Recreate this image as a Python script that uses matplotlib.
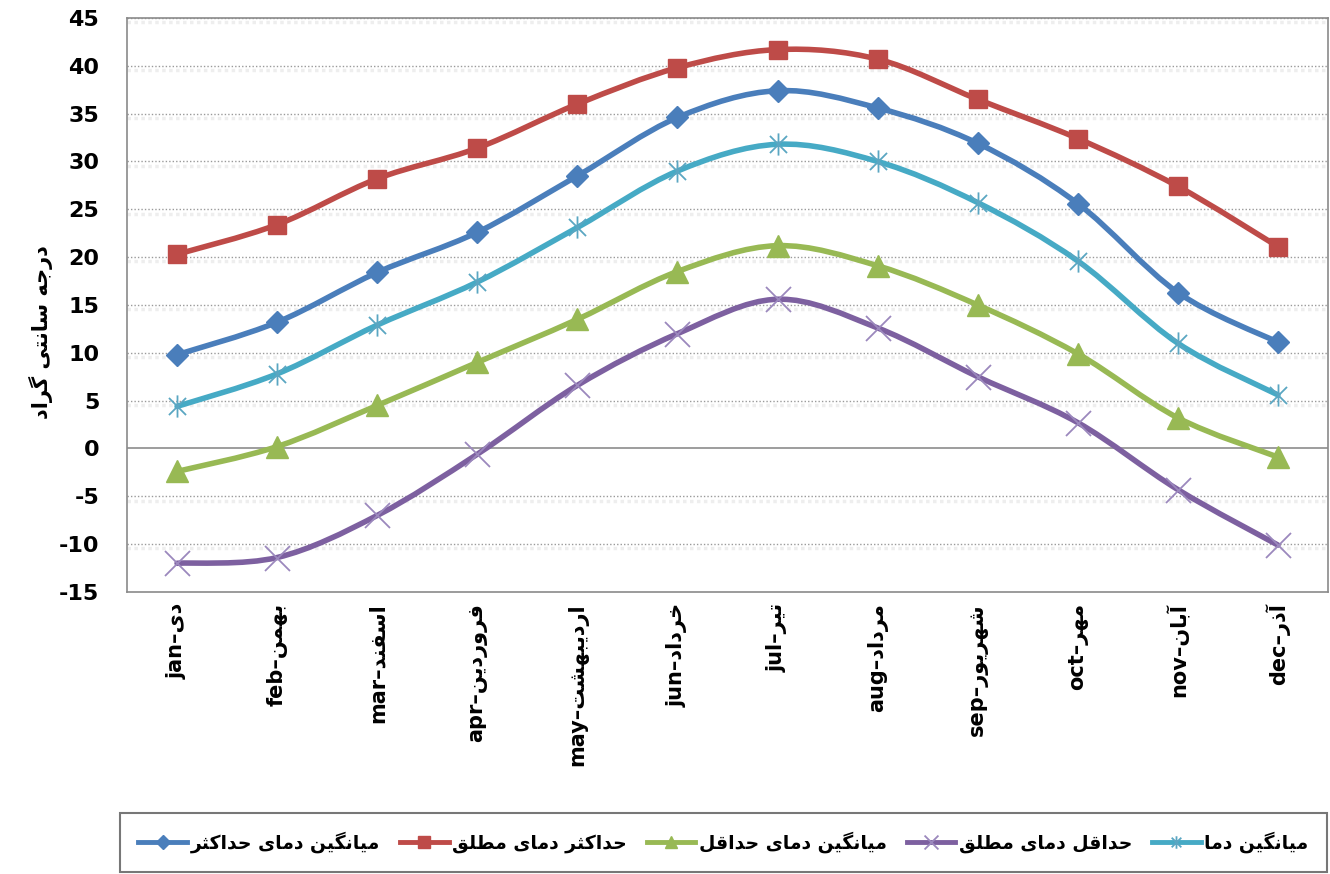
import numpy as np
import matplotlib
matplotlib.use("Agg")
import matplotlib.pyplot as plt
from matplotlib.path import Path
from matplotlib.patches import PathPatch
from matplotlib.lines import Line2D

# Data
months_en = ["jan", "feb", "mar", "apr", "may", "jun",
             "jul", "aug", "sep", "oct", "nov", "dec"]
months_fa = ["دی", "بهمن", "اسفند", "فروردین", "اردیبهشت", "خرداد",
             "تیر", "مرداد", "شهریور", "مهر", "آبان", "آذر"]
mean_max = [9.8, 13.2, 18.4, 22.6, 28.5, 34.6, 37.4, 35.6, 31.9, 25.6, 16.3, 11.1]
abs_max = [20.3, 23.4, 28.2, 31.4, 36.0, 39.8, 41.7, 40.7, 36.5, 32.4, 27.4, 21.1]
mean_min = [-2.4, 0.2, 4.5, 9.0, 13.5, 18.5, 21.2, 19.1, 15.0, 9.9, 3.2, -0.9]
abs_min = [-12.0, -11.4, -7.0, -0.6, 6.6, 12.0, 15.6, 12.6, 7.5, 2.7, -4.3, -10.1]
mean_t = [4.4, 7.8, 12.9, 17.4, 23.1, 29.0, 31.8, 30.0, 25.7, 19.6, 11.0, 5.6]

labels = ["میانگین دمای حداکثر", "حداکثر دمای مطلق", "میانگین دمای حداقل",
          "حداقل دمای مطلق", "میانگین دما"]
ylabel = "درجه سانتی گراد"

# --- minimal Persian shaping (matplotlib has no complex text layout) ---
FORMS = {
    'ا': ('\uFE8D', '\uFE8E'), 'آ': ('\uFE81', '\uFE82'),
    'ب': ('\uFE8F', '\uFE90', '\uFE91', '\uFE92'),
    'ت': ('\uFE95', '\uFE96', '\uFE97', '\uFE98'),
    'ث': ('\uFE99', '\uFE9A', '\uFE9B', '\uFE9C'),
    'ج': ('\uFE9D', '\uFE9E', '\uFE9F', '\uFEA0'),
    'ح': ('\uFEA1', '\uFEA2', '\uFEA3', '\uFEA4'),
    'خ': ('\uFEA5', '\uFEA6', '\uFEA7', '\uFEA8'),
    'د': ('\uFEA9', '\uFEAA'), 'ذ': ('\uFEAB', '\uFEAC'),
    'ر': ('\uFEAD', '\uFEAE'), 'ز': ('\uFEAF', '\uFEB0'),
    'س': ('\uFEB1', '\uFEB2', '\uFEB3', '\uFEB4'),
    'ش': ('\uFEB5', '\uFEB6', '\uFEB7', '\uFEB8'),
    'ط': ('\uFEC1', '\uFEC2', '\uFEC3', '\uFEC4'),
    'ف': ('\uFED1', '\uFED2', '\uFED3', '\uFED4'),
    'ق': ('\uFED5', '\uFED6', '\uFED7', '\uFED8'),
    'ک': ('\uFB8E', '\uFB8F', '\uFB90', '\uFB91'),
    'گ': ('\uFB92', '\uFB93', '\uFB94', '\uFB95'),
    'ل': ('\uFEDD', '\uFEDE', '\uFEDF', '\uFEE0'),
    'م': ('\uFEE1', '\uFEE2', '\uFEE3', '\uFEE4'),
    'ن': ('\uFEE5', '\uFEE6', '\uFEE7', '\uFEE8'),
    'ه': ('\uFEE9', '\uFEEA', '\uFEEB', '\uFEEC'),
    'و': ('\uFEED', '\uFEEE'),
    'ی': ('\uFBFC', '\uFBFD', '\uFBFE', '\uFBFF'),
}


def fa(text):
    out = []
    for i, ch in enumerate(text):
        if ch not in FORMS:
            out.append(ch)
            continue
        prev = text[i - 1] if i > 0 else ''
        nxt = text[i + 1] if i + 1 < len(text) else ''
        join_prev = prev in FORMS and len(FORMS[prev]) == 4
        join_next = len(FORMS[ch]) == 4 and nxt in FORMS
        f = FORMS[ch]
        if join_prev and join_next:
            out.append(f[3])
        elif join_prev:
            out.append(f[1])
        elif join_next:
            out.append(f[2])
        else:
            out.append(f[0])
    return ''.join(out)[::-1]


plt.rcParams['font.family'] = ['DejaVu Sans']
plt.rcParams['axes.unicode_minus'] = False

fig = plt.figure(figsize=(13.3, 8.74), dpi=100)
ax = fig.add_axes([0.0955, 0.3227, 0.903, 0.6567])

x = np.arange(len(months_en))


def smooth_path(xs, ys):
    # Excel-style smoothed line as cubic Bezier segments
    p = np.column_stack([xs, ys]).astype(float)
    n = len(p)
    verts = [p[0]]
    codes = [Path.MOVETO]
    for i in range(n - 1):
        p0 = p[i - 1] if i > 0 else p[i]
        p3 = p[i + 2] if i + 2 < n else p[i + 1]
        c1 = p[i] + (p[i + 1] - p0) / 6.0
        c2 = p[i + 1] - (p3 - p[i]) / 6.0
        verts += [c1, c2, p[i + 1]]
        codes += [Path.CURVE4] * 3
    return Path(verts, codes)


star = Path([(-1, -1), (1, 1), (-1, 1), (1, -1), (0, -1.3), (0, 1.3)],
            [Path.MOVETO, Path.LINETO, Path.MOVETO, Path.LINETO,
             Path.MOVETO, Path.LINETO])
cross = Path([(-1, -1), (1, 1), (-1, 1), (1, -1)],
             [Path.MOVETO, Path.LINETO, Path.MOVETO, Path.LINETO])

series = [
    (mean_max, '#4A7EBB', dict(marker='D', ms=11, mfc='#4A7EBB', mec='#4A7EBB', mew=1), 7),
    (abs_max, '#BE4B48', dict(marker='s', ms=13, mfc='#BE4B48', mec='#BE4B48', mew=1), 8),
    (mean_min, '#98B954', dict(marker='^', ms=16, mfc='#98B954', mec='#98B954', mew=1), 9),
    (abs_min, '#7D60A0', dict(marker=cross, ms=18, mfc='none', mec='#9b88bd', mew=1.3), 10),
    (mean_t, '#46AAC5', dict(marker=star, ms=16, mfc='none', mec='#5aa6c2', mew=1.3), 9),
]

handles = []
for vals, col, mk, lms in series:
    ax.add_patch(PathPatch(smooth_path(x, vals), facecolor='none', edgecolor=col,
                           lw=4.0, capstyle='round', joinstyle='round', zorder=3))
    ax.plot(x, vals, linestyle='none', zorder=4, **mk)
    hk = dict(mk)
    hk['ms'] = lms
    handles.append(Line2D([], [], color=col, lw=3.5, **hk))

ax.set_xlim(-0.5, 11.5)
ax.set_ylim(-15, 45)
ax.set_yticks(np.arange(-15, 50, 5))
for v in np.arange(-10, 50, 5):
    if v == 0:
        ax.axhline(v, color='#8c8c8c', lw=1.2, zorder=1)
    else:
        ax.axhline(v, color='#9a9a9a', lw=1.0, ls=(0, (1, 1.5)), zorder=1)
        ax.axhline(v - 0.45, color='#eeeeee', lw=2.5, ls=(0, (1, 1)), zorder=0.5)

ax.set_xticks(x)
ax.set_xticklabels([f"{e}–{fa(p)}" for e, p in zip(months_en, months_fa)],
                   rotation=90, fontsize=15, fontweight='bold')
ax.tick_params(axis='both', length=0, pad=8)
ax.tick_params(axis='y', labelsize=16, pad=20)
for t in ax.get_yticklabels():
    t.set_fontweight('bold')
    t.set_horizontalalignment('right')
for s in ax.spines.values():
    s.set_color('#8a8a8a')
    s.set_linewidth(1.2)

fig.text(0.031, 0.62, fa(ylabel), rotation=90, ha='center', va='center',
         fontsize=15, fontweight='bold')

leg = fig.legend(handles, [fa(l) for l in labels], loc='center', ncol=5,
                 bbox_to_anchor=(0.09, 0.002, 0.908, 0.069), mode='expand',
                 markerfirst=True, handlelength=2.6, fancybox=False,
                 edgecolor='#555555', prop=dict(size=13.5, weight='bold'),
                 borderaxespad=0, borderpad=1.0, columnspacing=1.5,
                 handletextpad=0.2)
leg.get_frame().set_linewidth(1.5)

fig.savefig('out.png', dpi=100)
